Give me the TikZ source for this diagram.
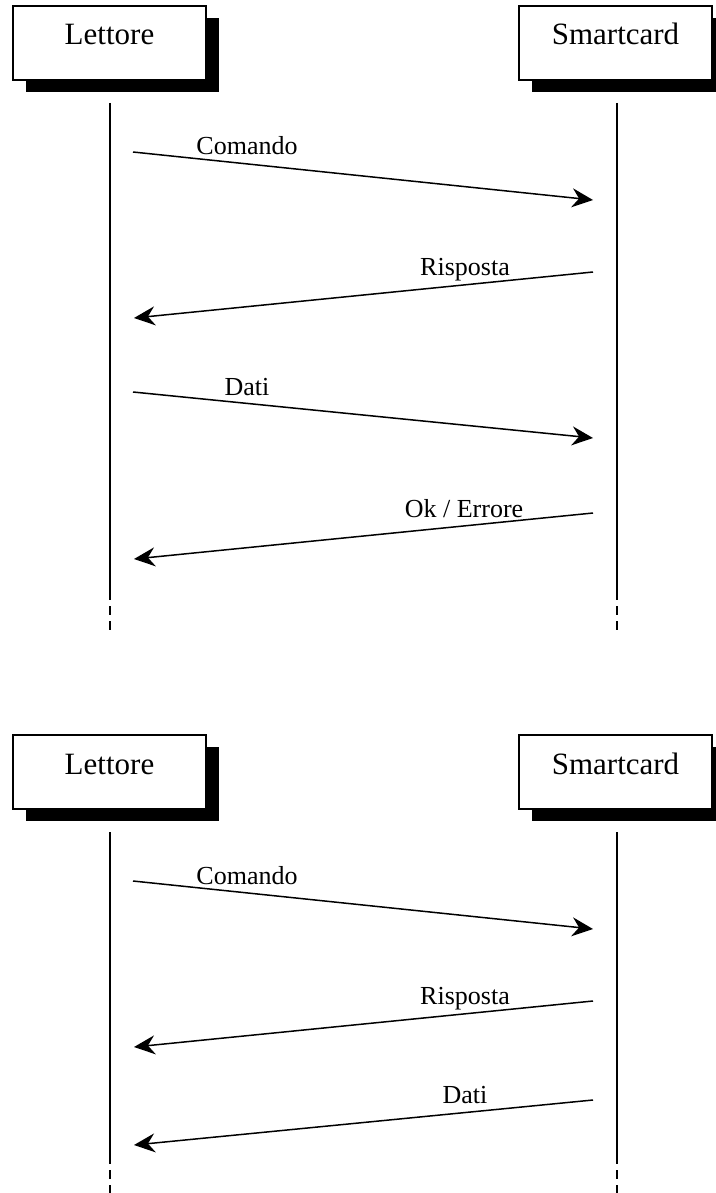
\documentclass[tikz,border=0pt]{standalone}
\usepackage{fontspec}
\setmainfont{Liberation Serif}
\usetikzlibrary{arrows.meta,shadows}
\begin{document}
\begin{tikzpicture}[x=1pt,y=-1pt,
  actor/.style={draw, line width=1.3pt, fill=white,
    minimum width=193pt, minimum height=74pt, inner sep=0pt,
    font=\fontsize{31}{36}\selectfont, text height=22pt, text depth=18pt,
    drop shadow={shadow xshift=13pt, shadow yshift=-12pt, fill=black, opacity=1}},
  life/.style={line width=1.4pt},
  lifedash/.style={line width=1.4pt, dash pattern=on 9pt off 6pt},
  msg/.style={line width=1.5pt, -{Stealth[length=21pt, width=19pt, inset=7pt]}},
  msglabel/.style={anchor=base, inner sep=0pt, font=\fontsize{26}{30}\selectfont}]
\useasboundingbox (0,0) rectangle (715,1193);

% ---- first exchange: command, response, data, outcome ----
\node[actor] (L1) at (109.5,43) {Lettore};
\node[actor] (S1) at (615.5,43) {Smartcard};
\coordinate (L1a) at (110,103); \coordinate (L1b) at (110,591); \coordinate (L1c) at (110,635);
\coordinate (S1a) at (617,103); \coordinate (S1b) at (617,591); \coordinate (S1c) at (617,635);
\draw[life] (L1a) -- (L1b);
\draw[lifedash] (L1b) -- (L1c);
\draw[life] (S1a) -- (S1b);
\draw[lifedash] (S1b) -- (S1c);

\coordinate (m1s) at (133,152); \coordinate (m1e) at (593,200);
\coordinate (m2s) at (593,272); \coordinate (m2e) at (134,318);
\coordinate (m3s) at (133,392); \coordinate (m3e) at (593,438);
\coordinate (m4s) at (593,513); \coordinate (m4e) at (134,559);
\draw[msg] (m1s) -- (m1e);
\draw[msg] (m2s) -- (m2e);
\draw[msg] (m3s) -- (m3e);
\draw[msg] (m4s) -- (m4e);
\node[msglabel] (t1) at (247,155) {Comando};
\node[msglabel] (t2) at (465,275) {Risposta};
\node[msglabel] (t3) at (247,395) {Dati};
\node[msglabel] (t4) at (464,517) {Ok / Errore};

% ---- second exchange: command, response, data ----
\node[actor] (L2) at (109.5,772) {Lettore};
\node[actor] (S2) at (615.5,772) {Smartcard};
\coordinate (L2a) at (110,832); \coordinate (L2b) at (110,1155); \coordinate (L2c) at (110,1200);
\coordinate (S2a) at (617,832); \coordinate (S2b) at (617,1155); \coordinate (S2c) at (617,1200);
\draw[life] (L2a) -- (L2b);
\draw[lifedash] (L2b) -- (L2c);
\draw[life] (S2a) -- (S2b);
\draw[lifedash] (S2b) -- (S2c);

\coordinate (n1s) at (133,881); \coordinate (n1e) at (593,929);
\coordinate (n2s) at (593,1001); \coordinate (n2e) at (134,1047);
\coordinate (n3s) at (593,1100); \coordinate (n3e) at (134,1145);
\draw[msg] (n1s) -- (n1e);
\draw[msg] (n2s) -- (n2e);
\draw[msg] (n3s) -- (n3e);
\node[msglabel] (u1) at (247,884) {Comando};
\node[msglabel] (u2) at (465,1004) {Risposta};
\node[msglabel] (u3) at (465,1103) {Dati};
\end{tikzpicture}
\end{document}
